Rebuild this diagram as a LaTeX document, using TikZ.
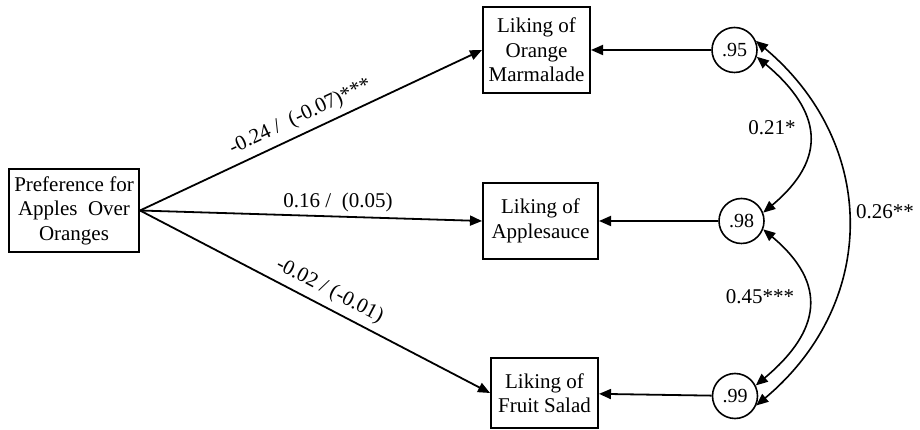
\documentclass[tikz,border=0pt]{standalone}
\usepackage{fontspec}
\setmainfont{Liberation Serif}
\usetikzlibrary{arrows.meta}
\begin{document}
\begin{tikzpicture}[x=1pt,y=1pt,
  every node/.style={font=\fontsize{21}{24.5}\selectfont},
  box/.style={draw, line width=2pt, align=center, inner sep=0pt},
  err/.style={draw, circle, line width=1.6pt, minimum size=45pt, inner sep=0pt, font=\fontsize{20}{22}\selectfont},
  pth/.style={line width=1.8pt, -{Triangle[length=12pt,width=10pt]}},
  cov/.style={line width=1.6pt, {Triangle[length=12pt,width=10pt]}-{Triangle[length=12pt,width=10pt]}},
  lab/.style={inner sep=6pt}
]
\useasboundingbox (0,0) rectangle (920,430);
\node[box, minimum width=130pt, minimum height=83pt] (pref) at (74,219.5) {Preference for\\Apples~~Over\\Oranges};
\node[box, minimum width=107pt, minimum height=86pt] (om) at (536.5,380) {Liking of\\Orange\\Marmalade};
\node[box, minimum width=115pt, minimum height=76pt] (as) at (540.5,209) {Liking of\\Applesauce};
\node[box, minimum width=107pt, minimum height=70pt] (fs) at (544.5,37) {Liking of\\Fruit Salad};
\node[err] (e1) at (734.5,380) {.95};
\node[err] (e2) at (741.5,209) {.98};
\node[err] (e3) at (735,34) {.99};
\coordinate (src) at (pref.east);
\draw[pth] (src) -- node[lab, sloped, above, pos=0.49] {-0.24 /~~(-0.07)***} (om.west);
\draw[pth] (src) -- (as.west);
\node (l2) at (338,228) {0.16 /~~(0.05)};
\draw[pth] (src) -- node[lab, sloped, above, pos=0.52] {-0.02 / (-0.01)} (fs.west);
\draw[pth] (e1) -- (om);
\draw[pth] (e2) -- (as);
\draw[pth] (e3) -- (fs);
\draw[cov] (e1.-17) .. controls +(-40:85) and +(40:85) .. (e2.21);
\draw[cov] (e2.-21) .. controls +(-40:85) and +(40:85) .. (e3.27);
\draw[cov] (e1.23) .. controls +(-40:160) and +(40:160) .. (e3.-24);
\node (c1) at (772,302) {0.21*};
\node (c2) at (760,133) {0.45***};
\node (c3) at (885,218) {0.26**};
\end{tikzpicture}
\end{document}
